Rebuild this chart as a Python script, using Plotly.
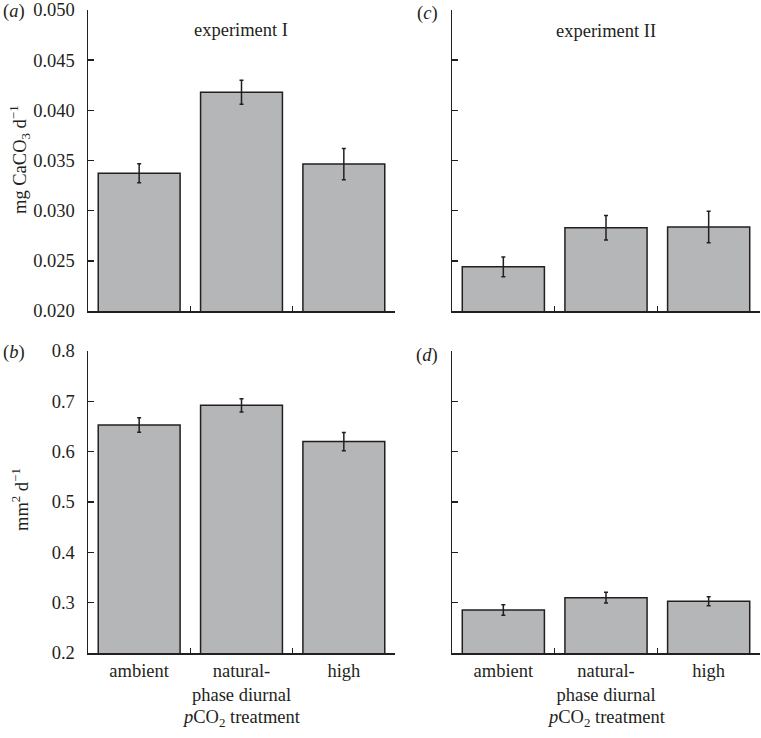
import plotly.graph_objects as go
from plotly.subplots import make_subplots

categories = ["ambient", "natural-<br>phase diurnal", "high"]

# experiment I
calc_exp1 = [0.03372, 0.04181, 0.03464]
calc_exp1_err = [0.00095, 0.0012, 0.00156]
area_exp1 = [0.653, 0.692, 0.620]
area_exp1_err = [0.0146, 0.0133, 0.018]

# experiment II
calc_exp2 = [0.0244, 0.0283, 0.02837]
calc_exp2_err = [0.00098, 0.00123, 0.00158]
area_exp2 = [0.2855, 0.310, 0.3028]
area_exp2_err = [0.0106, 0.0106, 0.009]

calc_ticks = [0.020, 0.025, 0.030, 0.035, 0.040, 0.045, 0.050]
area_ticks = [0.2, 0.3, 0.4, 0.5, 0.6, 0.7, 0.8]

W, H = 761, 738
FONT = "Liberation Serif"
INK = "#231f20"
BAR = "#b5b6b8"

fig = make_subplots(rows=2, cols=2)

panels = [
    (1, 1, calc_exp1, calc_exp1_err),
    (1, 2, calc_exp2, calc_exp2_err),
    (2, 1, area_exp1, area_exp1_err),
    (2, 2, area_exp2, area_exp2_err),
]
for r, c, vals, errs in panels:
    fig.add_trace(
        go.Bar(
            x=categories, y=vals, width=0.8,
            marker=dict(color=BAR, line=dict(color=INK, width=1.5)),
            error_y=dict(type="data", array=errs, visible=True,
                         color=INK, thickness=1.5, width=2),
            showlegend=False, hoverinfo="skip",
        ),
        row=r, col=c,
    )

def px_x(a, b):
    return [a / W, b / W]

def px_y(top, bottom):
    return [(H - bottom) / H, (H - top) / H]

xdom = {1: px_x(88, 395), 2: px_x(452, 760)}
ydom = {1: px_y(10, 311), 2: px_y(351, 653)}

for r in (1, 2):
    for c in (1, 2):
        idx = (r - 1) * 2 + c
        xa = "xaxis" if idx == 1 else f"xaxis{idx}"
        ya = "yaxis" if idx == 1 else f"yaxis{idx}"
        fig.layout[xa].update(
            domain=xdom[c], range=[-0.5, 2.5], type="category",
            tickson="boundaries", ticks="inside", ticklen=5, tickwidth=1.5,
            tickcolor=INK, showline=True, linecolor=INK, linewidth=1.5,
            showgrid=False, zeroline=False, automargin=False,
            showticklabels=(r == 2), tickangle=0,
            tickfont=dict(family=FONT, size=18.5, color=INK),
        )
        if r == 1:
            rng, tv = [0.020, 0.050], calc_ticks
            ttext = [f"{v:.3f}" for v in tv]
        else:
            rng, tv = [0.2, 0.8], area_ticks
            ttext = [f"{v:.1f}" for v in tv]
        fig.layout[ya].update(
            domain=ydom[r], range=rng, tickvals=tv, ticktext=ttext,
            ticks="inside", ticklen=6, tickwidth=1.5, tickcolor=INK,
            showline=True, linecolor=INK, linewidth=1.5,
            showgrid=False, zeroline=False, automargin=False,
            showticklabels=(c == 1), ticklabelstandoff=8,
            tickfont=dict(family=FONT, size=18.5, color=INK),
        )

def ann(text, x, y, size=18.5, angle=0, xanchor="center"):
    fig.add_annotation(
        text=text, x=x / W, y=(H - y) / H,
        xref="paper", yref="paper",
        showarrow=False, textangle=angle, xanchor=xanchor, yanchor="middle",
        font=dict(family=FONT, size=size, color=INK),
    )

ann("(<i>a</i>)", 14, 12)
ann("(<i>c</i>)", 427, 13)
ann("(<i>b</i>)", 14, 352)
ann("(<i>d</i>)", 427, 356)
ann("experiment I", 241, 30)
ann("experiment II", 606, 31)
ann("mg CaCO<sub>3</sub> d<sup>\u22121</sup>", 20, 160, angle=-90)
ann("mm<sup>2</sup> d<sup>\u22121</sup>", 20, 500, angle=-90)
ann("<i>p</i>CO<sub>2</sub> treatment", 241.5, 718)
ann("<i>p</i>CO<sub>2</sub> treatment", 606, 718)

fig.update_layout(
    width=W, height=H,
    margin=dict(l=0, r=0, t=0, b=0),
    paper_bgcolor="white", plot_bgcolor="white",
    bargap=0.2, hovermode=False,
    font=dict(family=FONT, size=18.5, color=INK),
)

# remove the default 8px page margin so the figure fills the window exactly
fig.write_html(
    "out.html",
    config={"displayModeBar": False, "staticPlot": True},
    post_script="document.body.style.margin='0';document.body.style.overflow='hidden';",
)
